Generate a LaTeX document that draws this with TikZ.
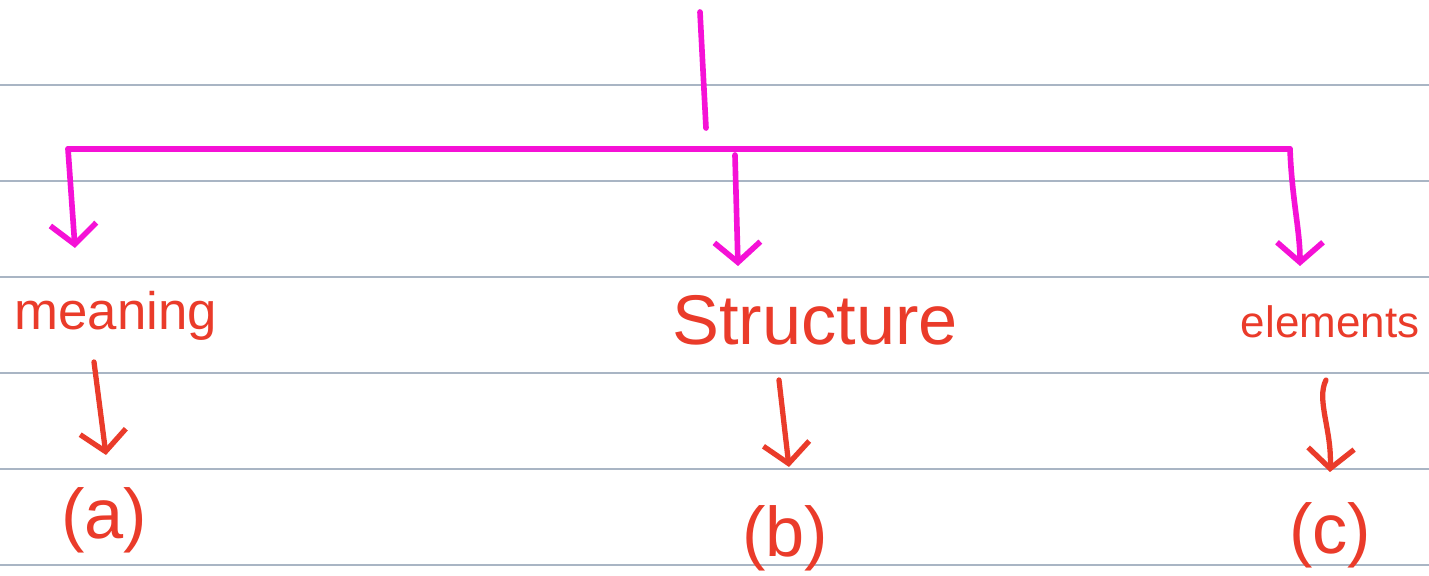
\documentclass[tikz,border=0pt]{standalone}
\usepackage{fontspec}
\setmainfont{Liberation Sans}
\usetikzlibrary{arrows.meta, positioning}
\definecolor{inkpink}{HTML}{F511D6}
\definecolor{inkred}{HTML}{EA3B2A}
\definecolor{rule}{HTML}{A9B5C4}

\tikzset{
  branch/.style={inkpink, line width=1.6pt, line cap=round},
  link/.style={inkred, line width=1.5pt, line cap=round},
  word/.style={text=inkred, font=\fontsize{15}{17}\selectfont, inner sep=0pt},
  tag/.style={text=inkred, font=\fontsize{20}{22}\selectfont, inner sep=0pt},
}

\begin{document}
\begin{tikzpicture}[>={Straight Barb[length=2mm, width=4.6mm]}, x=0.01cm, y=-0.01cm]

% Page
\fill[white] (0,0) rectangle (1429,576);
\useasboundingbox (0,0) rectangle (1429,576);

% Ruled lines
\foreach \ry in {85,181,277,373,469,565}
  \draw[rule, line width=0.8pt] (0,\ry) -- (1429,\ry);

% Pink tree
\coordinate (top) at (700,12);
\coordinate (stem) at (706,128);
\coordinate (barL) at (68,149);
\coordinate (barR) at (1290,149);
\coordinate (midTop) at (735,155);
\coordinate (endL) at (75,248);
\coordinate (endM) at (738,266);
\coordinate (endR) at (1300,266);

\draw[branch] (top) -- (stem);
\draw[branch] (barL) -- (barR);
\draw[branch, ->] (barL) -- (endL);
\draw[branch, ->] (midTop) -- (endM);
\draw[branch, ->] (barR) .. controls (1292,200) and (1300,230) .. (endR);

% Words
\node[word, anchor=west] (meaning) at (14,316) {meaning};
\node[word, font=\fontsize{20}{22}\selectfont] (structure) at (815,320) {Structure};
\node[word, anchor=east, font=\fontsize{12.5}{15}\selectfont] (elements) at (1420,322) {elements};

% Red arrows
\coordinate (aTop) at (94,362);
\coordinate (aEnd) at (106,455);
\coordinate (bTop) at (779,380);
\coordinate (bEnd) at (789,467);
\coordinate (cTop) at (1326,380);
\coordinate (cEnd) at (1330,472);

\draw[link, ->] (aTop) -- (aEnd);
\draw[link, ->] (bTop) -- (bEnd);
\draw[link, ->] (cTop) .. controls (1316,400) and (1332,430) .. (cEnd);

% Labels
\node[tag] (la) at (104,520) {(a)};
\node[tag] (lb) at (785,538) {(b)};
\node[tag] (lc) at (1330,535) {(c)};

\end{tikzpicture}
\end{document}
